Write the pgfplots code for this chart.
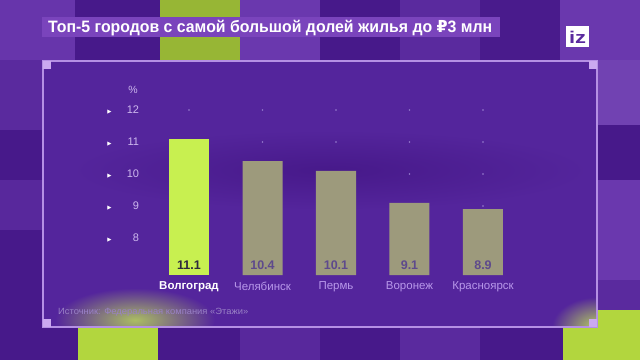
\documentclass[border=0pt]{standalone}
\usepackage{pgfplots}
\pgfplotsset{compat=1.18}
\usepackage{fontspec}
\usepackage{graphicx}
\setmainfont{Liberation Sans}
\newfontfamily\dv{DejaVu Sans}
\definecolor{bg}{HTML}{5A2A9E}
\definecolor{bgd}{HTML}{47198A}
\definecolor{bgl}{HTML}{6A38AE}
\definecolor{panelbg}{HTML}{54259C}
\definecolor{framec}{HTML}{B590E4}
\definecolor{cornerc}{HTML}{CBA9F0}
\definecolor{titlebg}{HTML}{7A44BC}
\definecolor{limec}{HTML}{C8F050}
\definecolor{limeb}{HTML}{B2D63E}
\definecolor{grayc}{HTML}{9D9A7C}
\definecolor{tickc}{HTML}{CDB8EE}
\definecolor{catc}{HTML}{B898EA}
\definecolor{dotc}{HTML}{8E72C8}
\definecolor{valdark}{HTML}{2E2A3C}
\definecolor{valgray}{HTML}{5E4A8C}
\definecolor{srcc}{HTML}{9A82C6}
\definecolor{logoc}{HTML}{5A2A9E}
\begin{document}
\begin{tikzpicture}
\useasboundingbox (0pt,0pt) rectangle (640pt,360pt);
\fill[bg] (0pt,0pt) rectangle (640pt,360pt);
% top row blocks
\fill[bgl!80!bg] (0pt,300pt) rectangle (75pt,360pt);
\fill[bgd] (75pt,300pt) rectangle (160pt,360pt);
\fill[limeb!85!black] (160pt,299pt) rectangle (240pt,360pt);
\fill[bgl] (240pt,300pt) rectangle (320pt,360pt);
\fill[bgd] (320pt,300pt) rectangle (400pt,360pt);
\fill[bg] (400pt,300pt) rectangle (480pt,360pt);
\fill[bgd!90!bg] (480pt,300pt) rectangle (560pt,360pt);
\fill[bgl] (560pt,300pt) rectangle (640pt,360pt);
% left column
\fill[bg] (0pt,230pt) rectangle (43pt,300pt);
\fill[bgd] (0pt,180pt) rectangle (43pt,230pt);
\fill[bg!90!bgd] (0pt,130pt) rectangle (43pt,180pt);
\fill[bgd] (0pt,33pt) rectangle (43pt,130pt);
% right column
\fill[bgl!95!white] (597pt,235pt) rectangle (640pt,300pt);
\fill[bgd] (597pt,180pt) rectangle (640pt,235pt);
\fill[bgl] (597pt,80pt) rectangle (640pt,180pt);
\fill[bg] (597pt,50pt) rectangle (640pt,80pt);
% bottom row
\fill[bgd] (0pt,0pt) rectangle (78pt,33pt);
\fill[limeb] (78pt,0pt) rectangle (158pt,32pt);
\fill[bgd] (158pt,0pt) rectangle (240pt,32pt);
\fill[bg!90!bgd] (240pt,0pt) rectangle (320pt,32pt);
\fill[bgd] (320pt,0pt) rectangle (400pt,32pt);
\fill[bg] (400pt,0pt) rectangle (480pt,32pt);
\fill[bgd] (480pt,0pt) rectangle (563pt,32pt);
\fill[limeb] (563pt,0pt) rectangle (640pt,50pt);
% panel
\fill[panelbg] (43pt,33pt) rectangle (597pt,299pt);
\begin{scope}
\clip (43pt,33pt) rectangle (597pt,299pt);
\shade[inner color=bgd, outer color=panelbg] (330pt,190pt) ellipse (260pt and 40pt);
\shade[inner color=limec!75!panelbg, outer color=panelbg] (135pt,40pt) ellipse (80pt and 32pt);
\shade[inner color=limec!85!panelbg, outer color=panelbg] (597pt,33pt) ellipse (45pt and 30pt);
\end{scope}
\begin{axis}[
  scale only axis, width=367.5pt, height=184.2pt,
  at={(152.25pt,85pt)}, anchor=south west,
  xmin=-0.5, xmax=4.5, ymin=6.844, ymax=12.6,
  clip mode=individual,
  axis line style={draw=none}, major tick length=0pt,
  xtick={0,1,2,3,4},
  xticklabels={{\bfseries\color{white}Волгоград},Челябинск,Пермь,Воронеж,Красноярск},
  xticklabel style={font=\fontsize{11.5}{11.5}\selectfont, text=catc, anchor=north, inner sep=0pt, yshift=-6.5pt},
  ytick={8,9,10,11,12},
  yticklabel={{\dv\fontsize{5.5}{5.5}\selectfont\textcolor{white}{▶}}\makebox[27.5pt][r]{\pgfmathprintnumber{\tick}}},
  yticklabel style={font=\fontsize{11}{11}\selectfont, text=tickc, anchor=east, inner sep=0pt, xshift=-13pt},
  /pgf/number format/assume math mode=true,
]
\addplot[only marks, mark=*, mark size=0.7pt, color=dotc] coordinates {
 (0,8)(0,9)(0,10)(0,11)(0,12)
 (1,8)(1,9)(1,10)(1,11)(1,12)
 (2,8)(2,9)(2,10)(2,11)(2,12)
 (3,8)(3,9)(3,10)(3,11)(3,12)
 (4,8)(4,9)(4,10)(4,11)(4,12)};
\addplot[ybar, bar width=40pt, bar shift=0pt, fill=limec, draw=none] coordinates {(0,11.1)};
\addplot[ybar, bar width=40pt, bar shift=0pt, fill=grayc, draw=none] coordinates {(1,10.4)(2,10.1)(3,9.1)(4,8.9)};
\addplot[draw=none, mark=none, point meta=explicit symbolic, nodes near coords,
  every node near coord/.append style={anchor=center, font=\bfseries\fontsize{12.5}{12.5}\selectfont, text=valdark}]
  coordinates {(0,7.16)[11.1]};
\addplot[draw=none, mark=none, point meta=explicit symbolic, nodes near coords,
  every node near coord/.append style={anchor=center, font=\bfseries\fontsize{12.5}{12.5}\selectfont, text=valgray}]
  coordinates {(1,7.16)[10.4] (2,7.16)[10.1] (3,7.16)[9.1] (4,7.16)[8.9]};
\end{axis}
\node[text=tickc, font=\fontsize{10.5}{10.5}\selectfont] at (133pt,270pt) {\%};
% frame
\draw[framec, line width=1.3pt] (43pt,33pt) rectangle (597pt,299pt);
\fill[cornerc] (43pt,299pt) rectangle (51pt,291pt);
\fill[cornerc] (589pt,299pt) rectangle (597pt,291pt);
\fill[cornerc] (43pt,33pt) rectangle (51pt,41pt);
\fill[cornerc] (589pt,33pt) rectangle (597pt,41pt);
% title
\fill[titlebg] (42pt,323pt) rectangle (500pt,343pt);
\node[anchor=base west, inner sep=0pt, text=white, font=\bfseries\fontsize{16.5}{16.5}\selectfont] at (48pt,327.3pt)
  {\resizebox{444pt}{\height}{Топ-5 городов с самой большой долей жилья до {\dv\bfseries ₽}3 млн}};
% logo
\fill[white] (566pt,313pt) rectangle (589pt,334pt);
\node[text=logoc, inner sep=0pt, font=\bfseries\fontsize{17}{17}\selectfont] at (577.5pt,322.5pt) {\resizebox{17pt}{\height}{iz}};
% source
\node[anchor=west, inner sep=0pt, text=srcc, font=\fontsize{9}{9}\selectfont] at (58pt,48pt)
  {\resizebox{190pt}{\height}{Источник: Федеральная компания «Этажи»}};
\end{tikzpicture}
\end{document}
